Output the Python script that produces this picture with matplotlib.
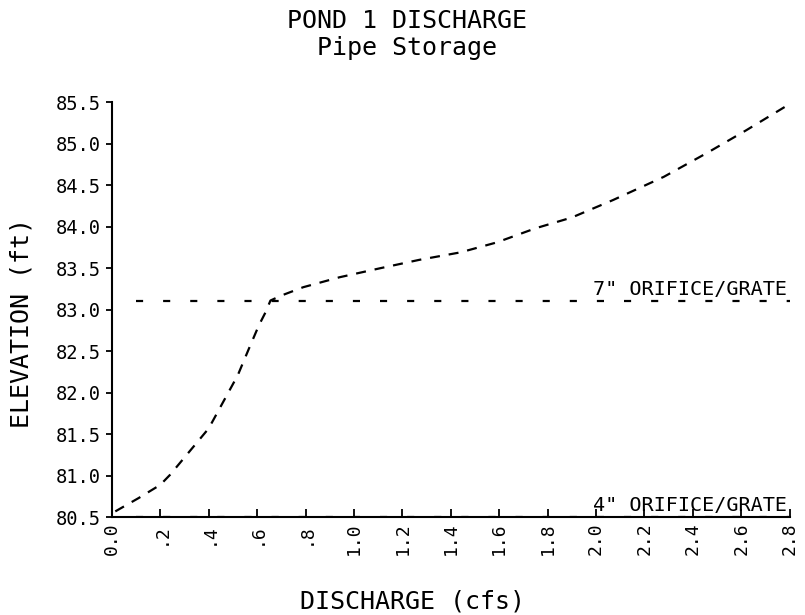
import matplotlib
matplotlib.use("Agg")
import matplotlib.pyplot as plt
import numpy as np

# Data
discharge = [0.014, 0.11, 0.20, 0.24, 0.32, 0.40, 0.46, 0.52, 0.566, 0.607,
             0.635, 0.655, 0.70, 0.79, 0.94, 1.11, 1.27, 1.44, 1.59, 1.75,
             1.90, 2.07, 2.28, 2.46, 2.62, 2.79]
elevation = [80.57, 80.73, 80.89, 81.01, 81.29, 81.57, 81.89, 82.21, 82.53, 82.81,
             82.97, 83.11, 83.17, 83.27, 83.39, 83.50, 83.60, 83.69, 83.81, 83.98,
             84.11, 84.32, 84.60, 84.89, 85.16, 85.46]
orifice_levels = [80.5, 83.1]
orifice_labels = ['4" ORIFICE/GRATE', '7" ORIFICE/GRATE']
xticks = [0.0, 0.2, 0.4, 0.6, 0.8, 1.0, 1.2, 1.4, 1.6, 1.8, 2.0, 2.2, 2.4, 2.6, 2.8]
xticklabels = ["0.0", ".2", ".4", ".6", ".8", "1.0", "1.2", "1.4", "1.6", "1.8",
               "2.0", "2.2", "2.4", "2.6", "2.8"]
yticks = [80.5, 81.0, 81.5, 82.0, 82.5, 83.0, 83.5, 84.0, 84.5, 85.0, 85.5]

FONT = "DejaVu Sans Mono"
plt.rcParams['font.family'] = [FONT, 'DejaVu Sans']

fig = plt.figure(figsize=(8.05, 6.15), dpi=100)
ax = fig.add_axes([0.139, 0.159, 0.842, 0.675])

ax.plot(discharge, elevation, color='black', lw=1.6, dashes=(4.5, 4.0))
for lev in orifice_levels:
    ax.plot([0.1, 2.8], [lev, lev], color='black', lw=1.6, dashes=(3.2, 9.0))
ax.text(2.79, orifice_levels[1] + 0.03, orifice_labels[1], ha='right', va='bottom',
        fontsize=14.5, family=FONT)
ax.text(2.79, orifice_levels[0] + 0.03, orifice_labels[0], ha='right', va='bottom',
        fontsize=14.5, family=FONT)

ax.set_xlim(0, 2.8)
ax.set_ylim(80.5, 85.5)
ax.set_xticks(xticks)
ax.set_xticklabels(xticklabels, rotation=90, fontsize=13, family=FONT)
ax.set_yticks(yticks)
ax.set_yticklabels([f"{v:.1f}" for v in yticks], fontsize=13.5, family=FONT)
ax.tick_params(axis='x', direction='in', length=6, width=1.3, pad=4)
ax.tick_params(axis='y', direction='out', length=4, width=1.3, pad=4)
for s in ['top', 'right']:
    ax.spines[s].set_visible(False)
for s in ['left', 'bottom']:
    ax.spines[s].set_linewidth(1.5)

fig.text(0.506, 1 - 21 / 615, "POND 1 DISCHARGE", ha='center', va='center',
         fontsize=18, family=FONT)
fig.text(0.506, 1 - 48 / 615, "Pipe Storage", ha='center', va='center',
         fontsize=18, family=FONT)
fig.text(22 / 805, 1 - 323 / 615, "ELEVATION (ft)", rotation=90, ha='center',
         va='center', fontsize=18, family=FONT)
fig.text(412 / 805, 1 - 602 / 615, "DISCHARGE (cfs)", ha='center', va='center',
         fontsize=18, family=FONT)

fig.savefig("out.png", dpi=100)
